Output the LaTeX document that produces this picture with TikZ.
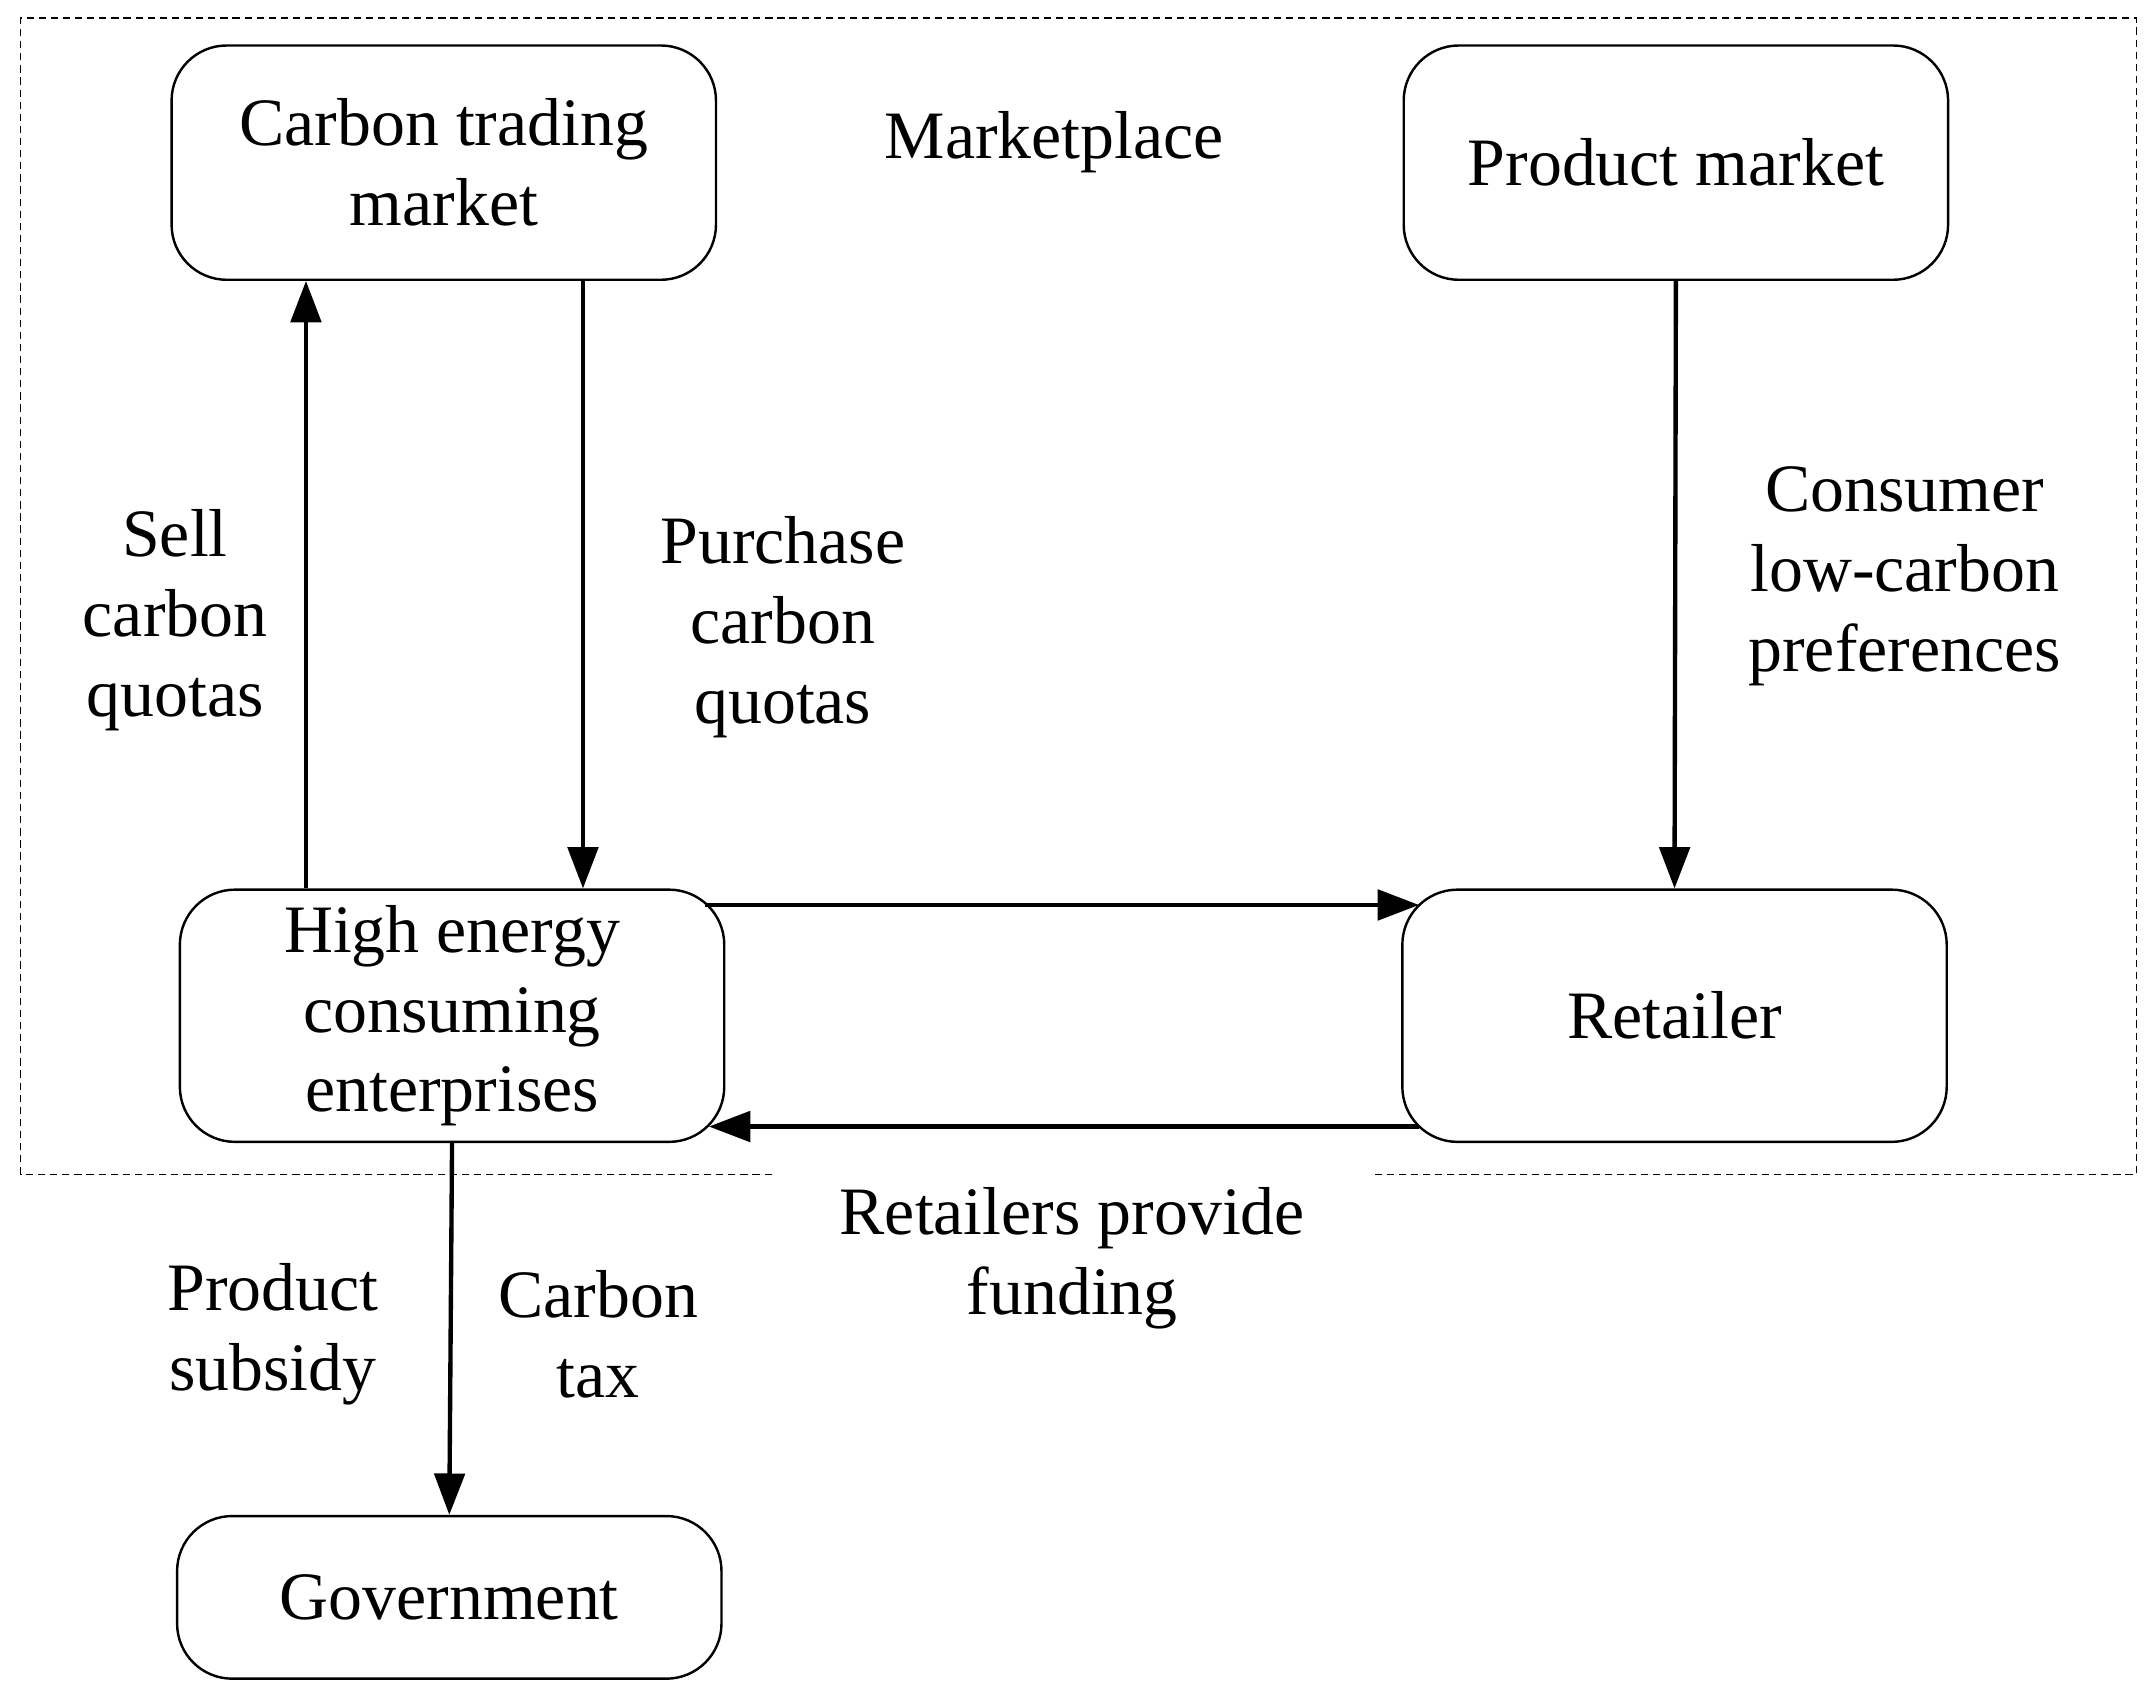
\documentclass[tikz,border=0pt]{standalone}
\usepackage{fontspec}
\setmainfont{Liberation Serif}
\usetikzlibrary{arrows.meta,positioning}

\begin{document}
\begin{tikzpicture}[
    >={Triangle[length=6mm,width=4.4mm]},
    actor/.style={
        draw,
        rounded corners=0.8cm,
        line width=1pt,
        minimum width=7.9cm,
        align=center,
        font=\fontsize{28}{33}\selectfont
    },
    flow/.style={->, line width=1.8pt},
    lbl/.style={align=center, font=\fontsize{28}{33}\selectfont}
]
\useasboundingbox (0,0) rectangle (31.2,-24.64);

% MARKET BOX
\draw[dash pattern=on 3pt off 2pt, line width=0.6pt]
    (11.2,-17.04) -- (0.3,-17.04) -- (0.3,-0.26) -- (31,-0.26) -- (31,-17.04) -- (19.9,-17.04);
\node[lbl] (place) at (15.3,-2.06) {Marketplace};

% ROW 1
\node[actor, minimum height=3.4cm] (ctm) at (6.44,-2.36) {Carbon trading\\market};
\node[actor, minimum height=3.4cm] (pm) at (24.32,-2.36) {Product market};

% ROW 2
\node[actor, minimum height=3.66cm, inner sep=0pt] (high) at (6.56,-14.74) {High energy\\consuming\\enterprises};
\node[actor, minimum height=3.66cm] (ret) at (24.3,-14.74) {Retailer};

% ROW 3
\node[actor, minimum height=2.36cm] (gov) at (6.52,-23.18) {Government};

% --- ARROWS ---
\draw[flow] ([xshift=-2.12cm]high.north) -- ([xshift=-2.12cm]high.north |- ctm.south);
\draw[flow] ([xshift=1.9cm]high.north |- ctm.south) -- ([xshift=1.9cm]high.north);
\draw[flow] (pm.south) -- (ret.north);
\draw[flow] ([xshift=-0.3cm,yshift=-0.24cm]high.north east) -- ([xshift=0.26cm,yshift=-0.24cm]ret.north west);
\draw[flow] ([xshift=0.26cm,yshift=0.24cm]ret.south west) -- ([xshift=-0.24cm,yshift=0.24cm]high.south east);
\draw[flow] (high.south) -- (gov.north);

% LABELS
\node[lbl] (sell) at (2.54,-9.0) {Sell\\carbon\\quotas};
\node[lbl] (buy) at (11.36,-9.1) {Purchase\\carbon\\quotas};
\node[lbl] (pref) at (27.64,-8.36) {Consumer\\low-carbon\\preferences};
\node[lbl] (fund) at (15.56,-18.26) {Retailers provide\\funding};
\node[lbl] (sub) at (3.96,-19.36) {Product\\subsidy};
\node[lbl] (tax) at (8.68,-19.36) {Carbon\\tax};
\end{tikzpicture}
\end{document}
